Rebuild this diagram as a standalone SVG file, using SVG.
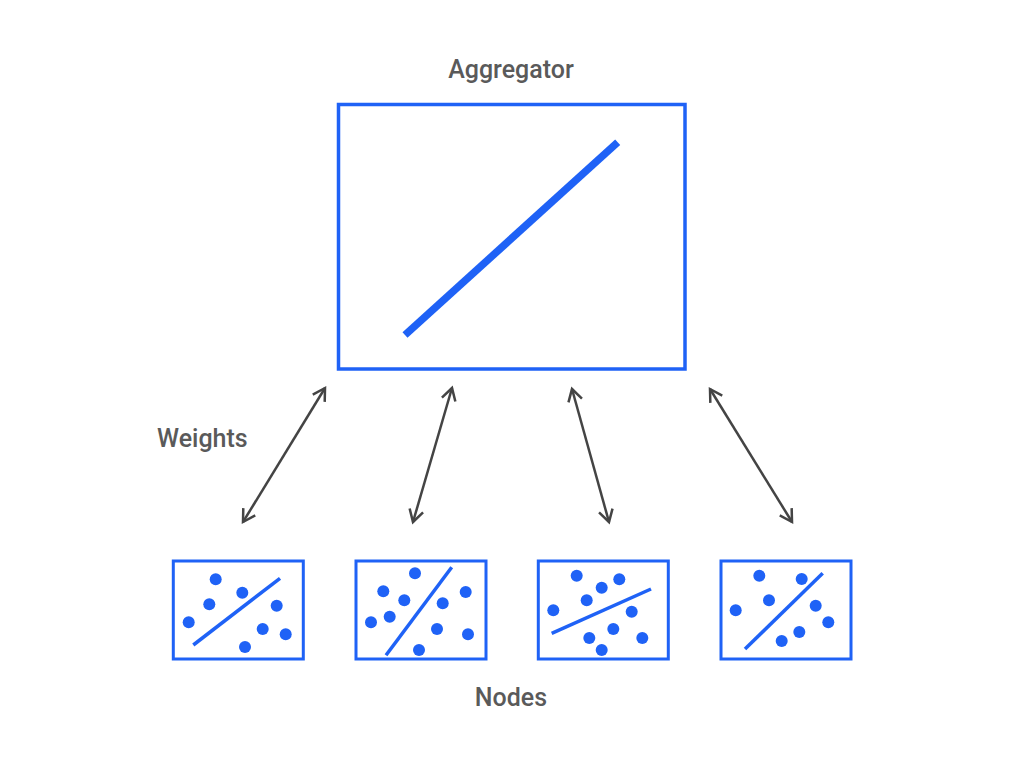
<svg xmlns="http://www.w3.org/2000/svg" width="1024" height="775" viewBox="0 0 1024 775">
<style>
.lbl{font-family:Roboto,"Liberation Sans",sans-serif;font-size:25px;font-weight:500;fill:#5a5a5a;}
.box{fill:#fff;stroke:#1f62f6;stroke-width:3;}
.big{fill:#fff;stroke:#1f62f6;stroke-width:3.5;}
.fit{stroke:#1f62f6;stroke-width:3.5;}
.dot{fill:#1f62f6;}
.arr{stroke:#444;stroke-width:2.5;fill:none;marker-start:url(#ah);marker-end:url(#ah);}
</style>
<defs>
<marker id="ah" markerUnits="userSpaceOnUse" viewBox="-16 -10 20 20" markerWidth="20" markerHeight="20" refX="0" refY="0" orient="auto-start-reverse" overflow="visible">
<path d="M-12,-7 L0,0 L-12,7" fill="none" stroke="#444" stroke-width="2.5" stroke-linejoin="miter"/>
</marker>
</defs>
<rect width="1024" height="775" fill="#fff"/>
<g id="aggregator">
<text class="lbl" x="511" y="78" text-anchor="middle">Aggregator</text>
<rect class="big" x="338.5" y="104.5" width="346.5" height="264.5"/>
<line x1="405" y1="335" x2="617.7" y2="142.3" stroke="#1f62f6" stroke-width="7.5"/>
</g>
<g id="weights-label">
<text class="lbl" x="157" y="447">Weights</text>
</g>
<g id="connectors">
<line class="arr" x1="243" y1="522" x2="325" y2="388"/>
<line class="arr" x1="413" y1="522" x2="452" y2="388"/>
<line class="arr" x1="609" y1="522" x2="572" y2="389"/>
<line class="arr" x1="792" y1="522" x2="710" y2="389"/>
</g>
<g id="node1">
<rect class="box" x="173.3" y="561" width="130" height="98"/>
<line class="fit" x1="193.3" y1="645" x2="280" y2="578.3"/>
<circle class="dot" cx="215.7" cy="579.3" r="6"/>
<circle class="dot" cx="242.3" cy="592.7" r="6"/>
<circle class="dot" cx="209.3" cy="604.3" r="6"/>
<circle class="dot" cx="276.7" cy="605.7" r="6"/>
<circle class="dot" cx="188.7" cy="622.3" r="6"/>
<circle class="dot" cx="262.7" cy="629" r="6"/>
<circle class="dot" cx="285.7" cy="634.3" r="6"/>
<circle class="dot" cx="245" cy="647" r="6"/>
</g>
<g id="node2">
<rect class="box" x="356" y="561" width="130" height="98"/>
<line class="fit" x1="386" y1="655.3" x2="451.7" y2="567.3"/>
<circle class="dot" cx="415" cy="573.3" r="6"/>
<circle class="dot" cx="383.3" cy="591.3" r="6"/>
<circle class="dot" cx="465.7" cy="592" r="6"/>
<circle class="dot" cx="404.3" cy="600.3" r="6"/>
<circle class="dot" cx="442.7" cy="603.3" r="6"/>
<circle class="dot" cx="389.7" cy="616.7" r="6"/>
<circle class="dot" cx="371" cy="622.3" r="6"/>
<circle class="dot" cx="437" cy="629" r="6"/>
<circle class="dot" cx="468" cy="634.3" r="6"/>
<circle class="dot" cx="419" cy="650" r="6"/>
</g>
<g id="node3">
<rect class="box" x="538.3" y="561" width="130" height="98"/>
<line class="fit" x1="551.7" y1="633.3" x2="651" y2="589"/>
<circle class="dot" cx="576.7" cy="575.7" r="6"/>
<circle class="dot" cx="619.3" cy="579.3" r="6"/>
<circle class="dot" cx="601.7" cy="587.7" r="6"/>
<circle class="dot" cx="586.7" cy="600.3" r="6"/>
<circle class="dot" cx="553.3" cy="610.3" r="6"/>
<circle class="dot" cx="631.7" cy="611.7" r="6"/>
<circle class="dot" cx="613.3" cy="629" r="6"/>
<circle class="dot" cx="589.3" cy="638" r="6"/>
<circle class="dot" cx="642.3" cy="638" r="6"/>
<circle class="dot" cx="601.7" cy="650" r="6"/>
</g>
<g id="node4">
<rect class="box" x="721" y="561" width="130" height="98"/>
<line class="fit" x1="745" y1="649" x2="822.7" y2="573.3"/>
<circle class="dot" cx="759.3" cy="575.7" r="6"/>
<circle class="dot" cx="801.7" cy="579" r="6"/>
<circle class="dot" cx="769" cy="600.3" r="6"/>
<circle class="dot" cx="735.7" cy="610.3" r="6"/>
<circle class="dot" cx="815.7" cy="605.7" r="6"/>
<circle class="dot" cx="828.3" cy="622.3" r="6"/>
<circle class="dot" cx="799.3" cy="632" r="6"/>
<circle class="dot" cx="781.7" cy="641" r="6"/>
</g>
<g id="nodes-label">
<text class="lbl" x="511" y="706" text-anchor="middle">Nodes</text>
</g>
</svg>
